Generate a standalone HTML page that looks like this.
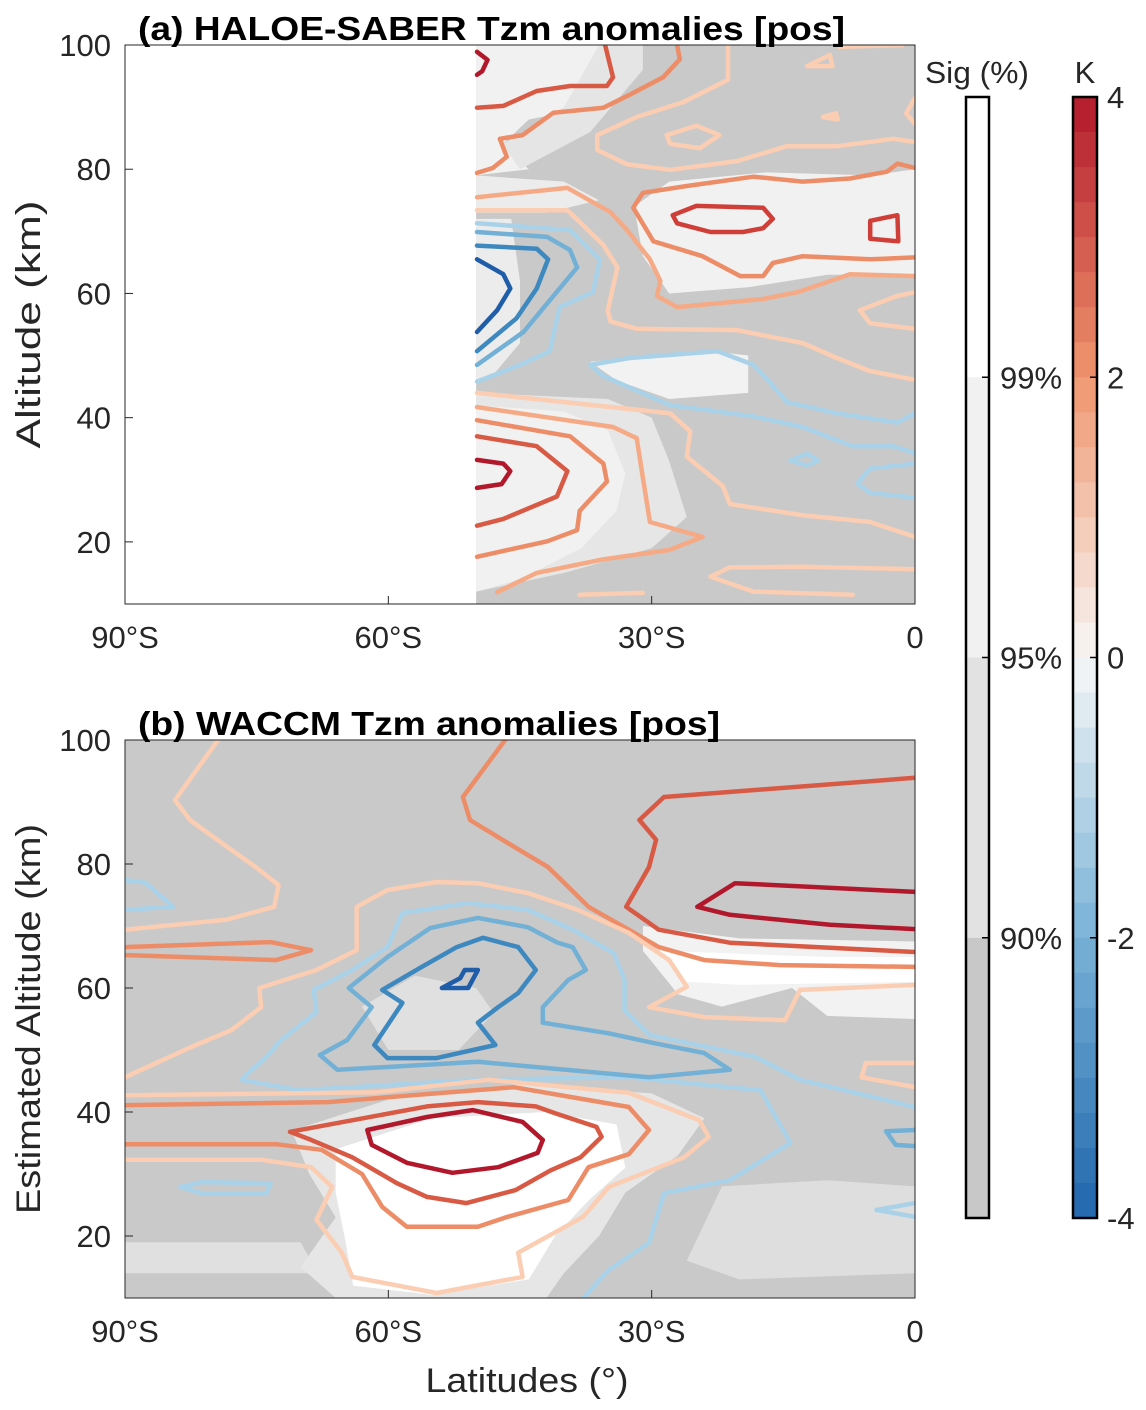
<!DOCTYPE html>
<html><head><meta charset="utf-8">
<style>
html,body{margin:0;padding:0;background:#fff;}
svg{display:block;font-family:"Liberation Sans",Arial,sans-serif;}
</style></head>
<body>
<svg id="fig" width="1146" height="1410" viewBox="0 0 1146 1410" xmlns="http://www.w3.org/2000/svg">
<defs>
<clipPath id="clipA"><rect x="125" y="45" width="790" height="559"/></clipPath>
<clipPath id="clipB"><rect x="125" y="740" width="790" height="558"/></clipPath>
</defs>
<g id="panelA"></g>
<g id="panelB"></g>
<g id="cbars"></g>
</svg>
<script>
// ---------- data ----------
const xTicks = [-90, -60, -30, 0];
const xTickLabels = ["90°S", "60°S", "30°S", "0"];
const yTicks = [20, 40, 60, 80, 100];
const kTicks = [4, 2, 0, -2, -4];
const sigTicks = ["99%", "95%", "90%"];
const sigShades = ["#ffffff", "#f1f1f1", "#e2e2e2", "#c8c8c8"];

// contour levels (K) and lines [lat, alt]
const levelsA = [3.5, 2.5, 1.5, 0.5, 0.5, 0.5, 0.5, 0.5, 0.5, 1.5, 3, 3, 1, 0.5, 0.5, -2, -1.5, -1, -0.5, -0.5, -0.5, -0.5, 3.5, 2.5, 1.5, 1, 0.5, 0.5, 0.5];
const linesA = [
 [[-49.9,98.9],[-48.7,97.6],[-49.3,95.8],[-49.9,95.2]],
 [[-35.3,100],[-34.4,94.8],[-35.1,93.4],[-39.3,93.4],[-43.1,92.6],[-46.9,90.2],[-49.9,89.9]],
 [[-27.1,100],[-26.8,97.7],[-28.7,94.8],[-32.5,92],[-35.5,89.9],[-41.2,89.1],[-44.7,85.5],[-47.3,84.9],[-46.5,82],[-48.1,80.2],[-49.9,79.4]],
 [[-21.3,100],[-21.3,94.4],[-26.4,90.8],[-31.7,88.4],[-36.2,85.5],[-36.2,83.1],[-32.8,80.8],[-27.9,79.9],[-20.3,81.3],[-14.6,83.7],[-8.9,83.7],[-2.5,84.9],[0,84.4]],
 [[-28.3,85.5],[-24.9,87],[-22.3,85.5],[-24.5,83.4],[-27.9,84.1],[-28.3,85.5]],
 [[-12.3,96.6],[-9.7,98.4],[-9.4,96.6],[-12.3,96.6]],
 [[-10.5,88.4],[-9,89],[-8.8,88],[-10.5,88.4]],
 [[-8.6,99.7],[-1.4,100]],
 [[0,91.5],[-1,89],[0,87.3]],
 [[0,80.2],[-2,80.9],[-3.2,79.6],[-7.4,78.5],[-12.8,78],[-18.4,78.8],[-26,77.3],[-31,76.2],[-32.1,73.8],[-29.8,68.4],[-24.2,66],[-19.9,62.8],[-17.3,62.8],[-16.2,64.9],[-12.8,66],[-5.1,65.5],[0,65.8]],
 [[-27.6,72.6],[-24.9,74.1],[-17.3,73.8],[-16.2,72],[-17.3,70.5],[-19.6,69.9],[-23.3,69.9],[-27.1,71.3],[-27.6,72.6]],
 [[-5.1,71.7],[-2,72.6],[-1.9,68.4],[-5.1,68.8],[-5.1,71.7]],
 [[-49.9,75.5],[-39.6,77],[-34.7,73.1],[-32.8,70.2],[-30.2,65.5],[-29,62],[-29.4,59.6],[-27.1,57.8],[-17.3,59.1],[-13.4,60.2],[-7.4,63.1],[0,62.8]],
 [[-49.9,73.4],[-39.6,73.4],[-35.5,67.8],[-33.9,64.2],[-35,57.3],[-34.7,55.5],[-31.7,54.3],[-20.3,54.1],[-12.8,52],[-8.9,49.6],[-5.1,47.5],[0,46.1]],
 [[0,60.2],[-2,59.6],[-6.3,57.3],[-5.1,55.2],[0,54.3]],
 [[-49.9,65.5],[-46.9,63.1],[-46.1,60.8],[-47.6,57.3],[-49.9,53.8]],
 [[-49.9,67.7],[-43.1,67.2],[-41.8,65.5],[-43.1,60.8],[-45.4,56],[-49.9,50.7]],
 [[-49.9,69.9],[-41.9,69.1],[-39.3,67],[-38.5,64.2],[-41.9,58.4],[-44.6,53.8],[-49.9,48.5]],
 [[-49.9,71.3],[-39.3,70.2],[-35.9,65.5],[-36.7,60.2],[-40.5,57.8],[-41.6,50.7],[-45,48.5],[-49.9,45.8]],
 [[0,40.7],[-2,39.2],[-8.9,40.7],[-14.6,42.5],[-16.5,45.6],[-18.4,48.5],[-22.5,50.7],[-32.5,49.6],[-37,48.5],[-35.5,46.7],[-27.9,42],[-18.4,40.2],[-12.8,38.5],[-7.1,35.4],[-2.5,35.4],[0,34.3]],
 [[-14.2,33.1],[-12.3,34.2],[-11,33.1],[-12.3,32.3],[-14.2,33.1]],
 [[0,32.6],[-5.1,31.8],[-6.6,29.4],[-5.1,27.9],[0,27.1]],
 [[-49.9,33.2],[-46.9,32.6],[-46.1,31.4],[-47.1,29.3],[-49.9,28.7]],
 [[-49.9,37],[-43.1,35.4],[-39.6,31.4],[-40.8,27.3],[-46.9,23.7],[-49.9,22.6]],
 [[-49.9,39.6],[-39.3,37],[-35.5,32.6],[-35.1,29.7],[-38.2,25],[-38.5,21.9],[-41.9,20.1],[-49.9,17.6]],
 [[-49.9,41.7],[-34.4,38.5],[-31.7,36.7],[-31,30.3],[-30.2,23.2],[-24.2,20.8],[-28,18.7],[-35.5,17.2],[-43.1,15],[-47.6,11.9]],
 [[-49.9,44],[-27.9,40.7],[-25.6,37.8],[-26,33.7],[-21.9,29],[-21.1,26.1],[-12.8,24.3],[-5.1,23.2],[0,20.8]],
 [[0,15.6],[-12.8,16],[-21.1,15.9],[-23.3,14.4],[-18.4,12],[-7.1,11.5]],
 [[-38.2,11.5],[-31,11.8]]
];
const levelsB = [3.5, 2.5, 1.5, 0.5, -0.5, 1.5, 0.5, -0.5, -1, -1.5, -2, 0.5, 1.5, 2.5, 3.5, -0.5, -1, 0.5, -0.5];
const linesB = [
 [[0,75.5],[-20.5,76.9],[-24.8,73.1],[-21.1,71.8],[-9.7,70.2],[0,69.5]],
 [[0,93.9],[-28.6,90.8],[-31.4,87.1],[-29.5,83.9],[-30.3,79.5],[-32.9,73.1],[-29.2,69.4],[-21.1,67.3],[0,65.8]],
 [[-46.7,100],[-51.5,90.8],[-50.7,87.1],[-46.4,83.4],[-41.8,79.5],[-39.5,76.3],[-37.2,73.1],[-32.6,69.4],[-29.2,66.6],[-24,64.5],[-15.4,63.7],[0,63.4]],
 [[-79.4,100],[-84.3,90.3],[-82.6,87.1],[-78.3,82.7],[-75.1,79.5],[-72.5,76.6],[-73,73.1],[-78.5,71],[-90,69.4]],
 [[-90,77.4],[-87.7,77],[-84.5,73.1],[-90,72.6]],
 [[-90,66.6],[-73.4,67.4],[-68.8,66.1],[-72.8,64.5],[-90,65.3]],
 [[-90,45.6],[-82.6,50.4],[-77.9,53.2],[-74.5,56.9],[-74.7,60],[-68.2,62.9],[-63.6,66.1],[-63.6,73.1],[-60.1,75.8],[-54.5,77.1],[-49.8,76.9],[-44.1,75.3],[-38.4,72.6],[-32.6,68.9],[-28,64.5],[-26,60.2],[-30.3,56.9],[-24,55.3],[-14.8,54.8],[-13.1,59.7],[0,60.5]],
 [[0,40.8],[-13.1,45.2],[-18.2,48.9],[-30.2,52.4],[-33.1,56.4],[-33.1,61.3],[-34.3,65.6],[-39,69.4],[-44.1,72.6],[-50.9,73.7],[-58.4,72.1],[-60.1,66.6],[-64.1,62.9],[-68.5,59.7],[-68.2,56.1],[-72.2,51.6],[-73.9,48.9],[-76.8,45.2],[-70.1,43.5],[-49.8,45.2],[-32.6,45.6],[-17.6,43.5],[-14.2,35],[-21.1,29],[-28.6,26.9],[-30.3,18.9],[-34.9,14.5],[-37.8,10]],
 [[-64.7,51.6],[-67.8,49.2],[-65.8,46.8],[-49.8,48.1],[-30.3,45.6],[-21.1,46.8],[-24,49.5],[-29.7,51.1],[-34.9,52.7],[-42.4,54.4],[-42.4,56.9],[-39.5,61.3],[-37.5,62.9],[-39,66.6],[-40.7,67.3],[-44.1,69.8],[-49.8,71.3],[-55.2,69.7],[-60.1,65],[-64.5,60],[-61.9,56.9],[-64.7,51.6]],
 [[-47.8,50.8],[-54.5,48.7],[-60.1,48.7],[-61.6,50.8],[-58.4,57.6],[-60.7,59.7],[-56.2,63.4],[-52.2,66.6],[-49.2,68.1],[-45.2,66.6],[-43.2,62.9],[-45.2,59.2],[-47.5,56.9],[-49.8,54.4],[-47.8,50.8]],
 [[-53.9,60],[-51.8,61.6],[-51.3,62.9],[-49.8,62.9],[-50.9,60],[-53.9,60]],
 [[-90,42.7],[-61.3,43.2],[-48.6,45.2],[-32.6,43.1],[-24.6,38.7],[-23.5,36],[-26.3,32.7],[-34.9,27.9],[-37.8,23.1],[-45.2,17.3],[-44.7,13.4],[-54.5,10.8],[-64.1,13.4],[-65.3,17.3],[-68.2,22.6],[-66.4,27.9],[-68.8,31.1],[-74.5,32.3],[-90,32.3]],
 [[-90,41.1],[-66.9,41.6],[-55.5,42.9],[-45.7,44],[-41.2,42.9],[-32.6,40.8],[-30.3,37.1],[-32.6,33.2],[-37.2,31.1],[-39.5,25.8],[-46.4,23.1],[-49.8,21.5],[-57.9,21.5],[-60.7,24.7],[-63,30],[-67.6,33.9],[-72.8,34.8],[-90,34.8]],
 [[-71.2,36.8],[-55.6,40.9],[-49.8,41.6],[-43.2,40.9],[-41,39.8],[-36.3,37.6],[-35.7,36],[-38.1,32.7],[-41.5,30.6],[-45.5,27.4],[-51.1,25.3],[-55.6,26.3],[-59,28.5],[-64.1,32.7],[-68.8,35.5],[-71.2,36.8]],
 [[-62.4,37.1],[-55.6,39.2],[-50.4,40.3],[-44.7,38.4],[-42.4,35.5],[-43,33.4],[-47.5,31.1],[-52.7,30.2],[-57.9,31.8],[-61.9,34.7],[-62.4,37.1]],
 [[-83.7,27.9],[-81.3,28.7],[-73.4,28.5],[-73.9,26.9],[-81.3,26.9],[-83.7,27.9]],
 [[0,37.1],[-3.3,36.9],[-2.2,34.7],[0,34.5]],
 [[0,47.9],[-5.6,47.9],[-6.1,45.6],[0,44]],
 [[0,25.3],[-4.4,24.2],[0,23.1]]
];
// significance shading regions [lat, alt]
const shadeA = [
 ["#f1f1f1", [[-50,100],[-36,100],[-34,96],[-37,90],[-44,88],[-47,84],[-44,80],[-50,79]]],
 ["#e5e5e5", [[-36,100],[-31,100],[-31,96],[-37,86],[-45,80],[-47,84],[-40,90]]],
 ["#ececec", [[-50,79],[-40,78],[-36,75],[-42,73],[-50,73]]],
 ["#f1f1f1", [[-32,74],[-28,78],[-17,79.5],[-5,79],[0,80],[0,63],[-10,63],[-19,61],[-28,60],[-31,66]]],
 ["#ececec", [[-50,72],[-46,72],[-45,62],[-45,52],[-48,47],[-50,46]]],
 ["#f2f2f2", [[-37,49],[-30,50],[-22,50.5],[-19,50],[-19,44],[-28,43],[-34,46]]],
 ["#e6e6e6", [[-50,44],[-35,43],[-30,40],[-28,33],[-26,24],[-30,19],[-40,15],[-50,12]]],
 ["#f1f1f1", [[-50,42],[-40,41],[-35,38],[-33,31],[-34,25],[-38,19],[-45,14],[-50,12]]]
];
const shadeB = [
 ["#e0e0e0", [[-90,19],[-70,19],[-68,14],[-90,14]]],
 ["#e6e6e6", [[-71,37],[-60,42],[-45,44.5],[-30,43],[-24,39],[-27,33],[-33,27],[-36,20],[-40,14],[-42,10],[-66,10],[-70,15],[-66,23],[-69,30]]],
 ["#ffffff", [[-66,34],[-55,39],[-42,40],[-34,38],[-33,31],[-37,26],[-41,20],[-44,13],[-55,10.5],[-64,12],[-65,20],[-66,27]]],
 ["#f2f2f2", [[-31,70],[-20,68],[0,67.5],[0,55],[-10,55.5],[-14,60],[-22,57],[-27,59],[-31,66]]],
 ["#ffffff", [[-29,66],[-10,65],[0,65],[0,61],[-20,60.5],[-26,61]]],
 ["#dedede", [[-22,28],[-10,29],[0,28],[0,14],[-20,13],[-26,16]]],
 ["#e0e0e0", [[-63,57],[-57,62],[-50,60],[-48,56],[-52,50],[-60,50]]]
];

// ---------- helpers ----------
const NS = "http://www.w3.org/2000/svg";
function mk(tag, attrs, parent){ const e=document.createElementNS(NS,tag); for(const k in attrs) e.setAttribute(k,attrs[k]); if(parent) parent.appendChild(e); return e; }
const X0=125, X1=915;
function xScale(lat){ return X0 + (lat+90)/90*(X1-X0); }
function yScaleFactory(top,bottom){ return a => bottom - (a-10)/90*(bottom-top); }
function levelColor(l){
  const m={"3.5":"#b2182b","3":"#cf3f38","2.5":"#d85a45","2":"#e06c50","1.5":"#ed8d68","1":"#f5aa85","0.5":"#fbcdb2",
  "-0.5":"#a9d2e8","-1":"#72b0d6","-1.5":"#3e88c0","-2":"#1f5da8"};
  return m[String(l)];
}

function drawPanel(gid, clipId, top, bottom, lines, levels, shades, maskLeft, title, titleLen, ylabel, ylabelLen){
  const g=document.getElementById(gid);
  const ys=yScaleFactory(top,bottom);
  const body=mk("g",{"clip-path":"url(#"+clipId+")"},g);
  const bg=mk("rect",{x:X0,y:top,width:X1-X0,height:bottom-top,fill:"#c9c9c9"},body);
  
  
  shades.forEach(s=>{
    const p=mk("polygon",{points:s[1].map(q=>xScale(q[0])+","+ys(q[1])).join(" "),fill:s[0]},body);
    
    
  });
  if(maskLeft!==null){
    const m=mk("rect",{x:X0,y:top,width:xScale(maskLeft)-X0,height:bottom-top,fill:"#fff"},body);
    
    
  }
  lines.forEach((ln,i)=>{
    const p=mk("polyline",{points:ln.map(q=>xScale(q[0]).toFixed(1)+","+ys(q[1]).toFixed(1)).join(" "),fill:"none",stroke:levelColor(levels[i]),"stroke-width":4.5,"stroke-linejoin":"round","stroke-linecap":"round"},body);
    
    
  });
  const fr=mk("rect",{x:X0,y:top,width:X1-X0,height:bottom-top,fill:"none",stroke:"#262626","stroke-width":1},g);
  
  
  xTicks.forEach((t,i)=>{
    const x=xScale(t);
    mk("line",{x1:x,y1:bottom,x2:x,y2:bottom-8,stroke:"#262626","stroke-width":1},g);
    const tx=mk("text",{x:x,y:bottom+44,"font-size":31,"text-anchor":"middle",fill:"#262626"},g);
    tx.textContent=xTickLabels[i];
    
    
  });
  yTicks.forEach(t=>{
    const y=ys(t);
    mk("line",{x1:X0,y1:y,x2:X0+8,y2:y,stroke:"#262626","stroke-width":1},g);
    const tx=mk("text",{x:X0-14,y:y+11,"font-size":31,"text-anchor":"end",fill:"#262626"},g);
    tx.textContent=t;
    
    
  });
  const tt=mk("text",{x:138,y:top-5,"font-size":33,"font-weight":"bold",fill:"#000",textLength:titleLen,lengthAdjust:"spacingAndGlyphs"},g);
  tt.textContent=title;
  
  
  const cy=(top+bottom)/2;
  const yl=mk("text",{x:40,y:cy,"font-size":34,"text-anchor":"middle",fill:"#262626",transform:"rotate(-90 40 "+cy+")",textLength:ylabelLen,lengthAdjust:"spacingAndGlyphs"},g);
  yl.textContent=ylabel;
  
  
}

drawPanel("panelA","clipA",45,604,linesA,levelsA,shadeA,-50,"(a) HALOE-SABER Tzm anomalies [pos]",707,"Altitude (km)",248);
drawPanel("panelB","clipB",740,1298,linesB,levelsB,shadeB,null,"(b) WACCM Tzm anomalies [pos]",582,"Estimated Altitude (km)",390);
const pb=document.getElementById("panelB");
const xl=mk("text",{x:527,y:1392,"font-size":34,"text-anchor":"middle",fill:"#262626",textLength:203,lengthAdjust:"spacingAndGlyphs"},pb);
xl.textContent="Latitudes (°)";



// ---------- colorbars ----------
const cb=document.getElementById("cbars");
const CT=97, CB=1218;
const segH=(CB-CT)/4;
sigShades.forEach((c,i)=>{
  const r=mk("rect",{x:966,y:CT+i*segH,width:23,height:segH,fill:c},cb);
  
  
});
mk("rect",{x:966,y:CT,width:23,height:CB-CT,fill:"none",stroke:"#000","stroke-width":2.5},cb);
sigTicks.forEach((t,i)=>{
  const y=CT+(i+1)*segH;
  mk("line",{x1:982,y1:y,x2:989,y2:y,stroke:"#000","stroke-width":1.5},cb);
  const tx=mk("text",{x:1000,y:y+11,"font-size":31,fill:"#262626"},cb);
  tx.textContent=t;
  
  
});
const st=mk("text",{x:977,y:83,"font-size":31,"text-anchor":"middle",fill:"#262626",textLength:104,lengthAdjust:"spacingAndGlyphs"},cb);
st.textContent="Sig (%)";


const stops=[[4,[178,24,43]],[2,[240,150,110]],[0,[247,247,247]],[-2,[120,178,215]],[-4,[33,102,172]]];
function kColor(v){
  for(let i=0;i<stops.length-1;i++){const a=stops[i],b=stops[i+1];
    if(v<=a[0]&&v>=b[0]){const f=(a[0]-v)/(a[0]-b[0]);return "rgb("+a[1].map((c,j)=>Math.round(c+(b[1][j]-c)*f)).join(",")+")";}}
  return "#fff";
}
const nSteps=32, stepH=(CB-CT)/nSteps;
for(let i=0;i<nSteps;i++){
  const v=4-(i+0.5)*8/nSteps;
  const r=mk("rect",{x:1073,y:CT+i*stepH,width:24,height:stepH+0.5,fill:kColor(v)},cb);
  
  
}
mk("rect",{x:1073,y:CT,width:24,height:CB-CT,fill:"none",stroke:"#000","stroke-width":2.5},cb);
kTicks.forEach(t=>{
  const y=CT+(4-t)/8*(CB-CT);
  mk("line",{x1:1090,y1:y,x2:1097,y2:y,stroke:"#000","stroke-width":1.5},cb);
  const tx=mk("text",{x:1107,y:y+11,"font-size":31,fill:"#262626"},cb);
  tx.textContent=t;
  
  
});
const kt=mk("text",{x:1085,y:83,"font-size":31,"text-anchor":"middle",fill:"#262626"},cb);
kt.textContent="K";


</script>
</body></html>
